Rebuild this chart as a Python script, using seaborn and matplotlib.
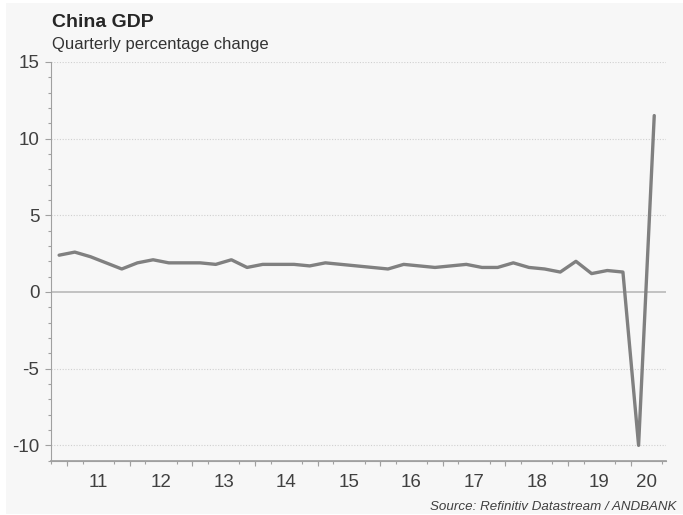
import numpy as np
import pandas as pd
import matplotlib
matplotlib.use("Agg")
import matplotlib.pyplot as plt
import seaborn as sns
from matplotlib.ticker import MultipleLocator, FixedLocator
from matplotlib.patches import Rectangle

# ---- data (2010Q4 .. 2020Q2), quarterly % change ----
quarters = ["2010Q4",
            "2011Q1", "2011Q2", "2011Q3", "2011Q4",
            "2012Q1", "2012Q2", "2012Q3", "2012Q4",
            "2013Q1", "2013Q2", "2013Q3", "2013Q4",
            "2014Q1", "2014Q2", "2014Q3", "2014Q4",
            "2015Q1", "2015Q2", "2015Q3", "2015Q4",
            "2016Q1", "2016Q2", "2016Q3", "2016Q4",
            "2017Q1", "2017Q2", "2017Q3", "2017Q4",
            "2018Q1", "2018Q2", "2018Q3", "2018Q4",
            "2019Q1", "2019Q2", "2019Q3", "2019Q4",
            "2020Q1", "2020Q2"]
gdp_qoq = [2.4,
           2.6, 2.3, 1.9, 1.5,
           1.9, 2.1, 1.9, 1.9,
           1.9, 1.8, 2.1, 1.6,
           1.8, 1.8, 1.8, 1.7,
           1.9, 1.8, 1.7, 1.6,
           1.5, 1.8, 1.7, 1.6,
           1.7, 1.8, 1.6, 1.6,
           1.9, 1.6, 1.5, 1.3,
           2.0, 1.2, 1.4, 1.3,
           -10.0, 11.5]
year_labels = ["11", "12", "13", "14", "15", "16", "17", "18", "19", "20"]
y_ticks = [-10, -5, 0, 5, 10, 15]

df = pd.DataFrame({"q": quarters, "v": gdp_qoq})
df["i"] = np.arange(len(df))
df["year"] = df["q"].str[2:4]

sns.set_theme(style="white")
plt.rcParams["font.family"] = ["Liberation Sans", "DejaVu Sans"]
plt.rcParams["axes.unicode_minus"] = False

bg = "#f7f7f7"
fig = plt.figure(figsize=(6.83, 5.15), dpi=100, facecolor="white")
fig.patches.append(Rectangle((6 / 683, 1 / 515), 1 - 6 / 683, 1 - 4 / 515,
                             transform=fig.transFigure, facecolor=bg,
                             edgecolor="none", zorder=-10))
ax = fig.add_axes([0.0751, 0.1054, 0.9, 0.7744])
ax.set_facecolor(bg)

# grid
for yv in y_ticks:
    if yv == 0:
        continue
    ax.axhline(yv, color="#d0d0d0", lw=0.8, ls=(0, (1, 1.5)), zorder=0)
ax.axhline(0, color="#b4b4b4", lw=1.1, zorder=1)

sns.lineplot(data=df, x="i", y="v", ax=ax, color="#808080", linewidth=2.4,
             zorder=3, legend=False)

ax.set_xlim(-0.5, 38.75)
ax.set_ylim(-11, 15)

# y ticks
ax.set_yticks(y_ticks)
ax.set_yticklabels([str(t) for t in y_ticks])
ax.yaxis.set_minor_locator(MultipleLocator(1))
ax.tick_params(axis="y", which="major", length=4, width=0.8, color="#a0a0a0",
               labelsize=13.5, labelcolor="#404040", pad=4.5, left=True)
ax.tick_params(axis="y", which="minor", length=2.5, width=0.8, color="#a0a0a0", left=True)

# x ticks: labels at year centres, small ticks at quarter boundaries
centers = [df.loc[df["year"] == y, "i"].mean() for y in year_labels]
ax.set_xticks(centers)
ax.set_xticklabels(year_labels)
ax.xaxis.set_minor_locator(FixedLocator(np.arange(-0.5, 39, 1.0)))
ax.tick_params(axis="x", which="major", length=0, labelsize=13.5,
               labelcolor="#404040", pad=9.5, bottom=True)
ax.tick_params(axis="x", which="minor", length=2.5, width=0.8, color="#a0a0a0", bottom=True)
# year-boundary ticks slightly longer
sec = ax.secondary_xaxis("bottom")
sec.set_xticks(np.arange(0.5, 39, 4.0))
sec.set_xticklabels([])
sec.tick_params(length=3.5, width=0.8, color="#a0a0a0")
sec.spines["bottom"].set_color("#a0a0a0")

ax.set_xlabel("")
ax.set_ylabel("")
for s in ["top", "right"]:
    ax.spines[s].set_visible(False)
for s in ["left", "bottom"]:
    ax.spines[s].set_color("#a0a0a0")
    ax.spines[s].set_linewidth(0.8)

fig.text(0.076, 0.9476, "China GDP", fontsize=14, fontweight="bold",
         color="#262626", va="baseline", ha="left")
fig.text(0.076, 0.904, "Quarterly percentage change", fontsize=12,
         color="#333333", va="baseline", ha="left")
fig.text(0.991, 0.0095, "Source: Refinitiv Datastream / ANDBANK", fontsize=9.6,
         style="italic", color="#404040", va="baseline", ha="right")

fig.savefig("out.png", dpi=100, facecolor="white")
